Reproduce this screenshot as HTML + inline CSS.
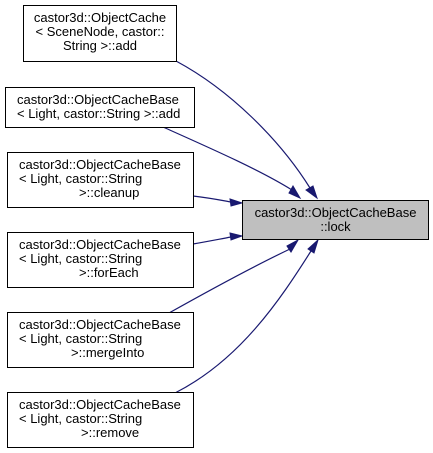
<!DOCTYPE html>
<html><head><style>
body{margin:0;background:#fff;width:433px;height:453px;overflow:hidden;position:relative;font-family:"Liberation Sans",Arial,sans-serif;font-size:13px;}
.n{position:absolute;border:1px solid #000;background:#fff;box-sizing:border-box;line-height:14px;padding-top:5px;color:#000;white-space:nowrap}
.c{text-align:center}
</style></head><body>
<svg width="433" height="453" style="position:absolute;left:0;top:0">
<g fill="none" stroke="#191970" stroke-width="1.2">
<path d="M176,61 C230,90 280,140 310,188"/>
<path d="M163,127 C210,148 260,170 292,190"/>
<path d="M193,196 C210,198 220,200 231,202"/>
<path d="M193,244 C210,241 220,239 231,237"/>
<path d="M169,313 C210,290 250,268 290,249"/>
<path d="M175,393 C240,360 280,300 311,251"/>
</g>
<g fill="#191970" stroke="#191970">
<polygon points="306,190 317,198 313,186"/>
<polygon points="289,193 300,198 293,186"/>
<polygon points="230,199 242,203 231,206"/>
<polygon points="230,233 242,236 231,240"/>
<polygon points="287,246 298,240 291,252"/>
<polygon points="308,249 318,240 314,253"/>
</g>
</svg>
<div class="n c" style="left:23px;top:5px;width:154px;height:57px">castor3d::ObjectCache<br>&lt; SceneNode, castor::<br>String &gt;::add</div>
<div class="n" style="left:5px;top:87px;width:190px;height:41px;padding-left:11px">castor3d::ObjectCacheBase<br>&lt; Light, castor::String &gt;::add</div>
<div class="n" style="left:7px;top:152px;width:187px;height:56px;padding-left:11px">castor3d::ObjectCacheBase<br>&lt; Light, castor::String<br><span style="padding-left:60px">&gt;::cleanup</span></div>
<div class="n" style="left:7px;top:232px;width:187px;height:56px;padding-left:11px">castor3d::ObjectCacheBase<br>&lt; Light, castor::String<br><span style="padding-left:60px">&gt;::forEach</span></div>
<div class="n" style="left:7px;top:312px;width:187px;height:56px;padding-left:11px">castor3d::ObjectCacheBase<br>&lt; Light, castor::String<br><span style="padding-left:52px">&gt;::mergeInto</span></div>
<div class="n" style="left:7px;top:392px;width:187px;height:56px;padding-left:11px">castor3d::ObjectCacheBase<br>&lt; Light, castor::String<br><span style="padding-left:62px">&gt;::remove</span></div>
<div class="n c" style="left:242px;top:200px;width:187px;height:40px;background:#bfbfbf;padding-top:5px">castor3d::ObjectCacheBase<br>::lock</div>
</body></html>
